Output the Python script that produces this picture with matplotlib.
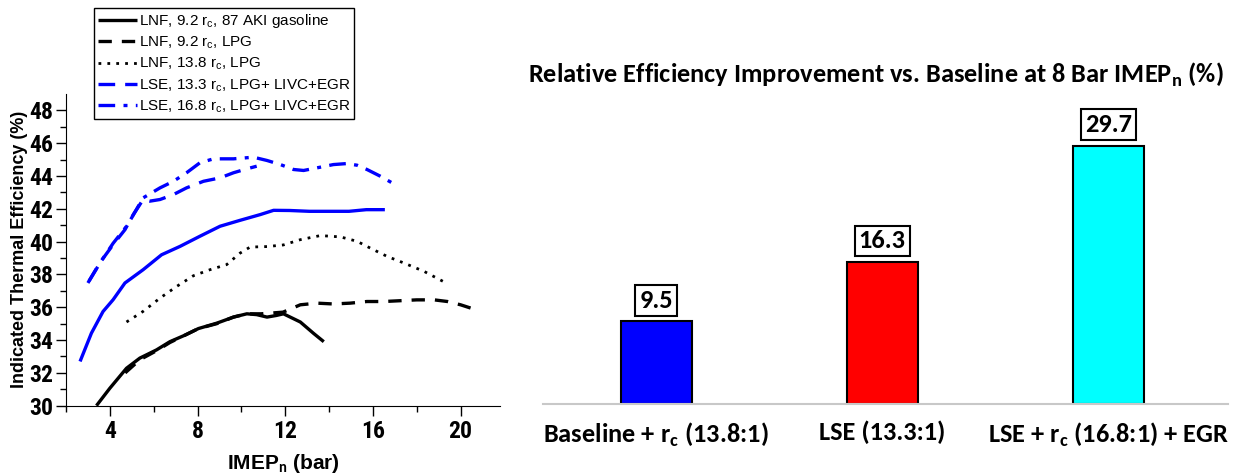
import matplotlib.pyplot as plt
from matplotlib import font_manager as fm

available = {f.name for f in fm.fontManager.ttflist}


def pick(cands):
    for c in cands:
        if c in available:
            return c
    return "DejaVu Sans"


calibri = pick(["Carlito", "Liberation Sans Narrow", "Open Sans Condensed",
                "Roboto Condensed", "Barlow Semi Condensed"])
arial_narrow = pick(["Liberation Sans Narrow", "Arimo", "Roboto Condensed",
                     "Barlow Semi Condensed", "Carlito"])

plt.rcParams['font.family'] = ['Liberation Sans', 'DejaVu Sans']
plt.rcParams['mathtext.fontset'] = 'custom'
plt.rcParams['mathtext.rm'] = 'Liberation Sans'
plt.rcParams['mathtext.it'] = 'Liberation Sans'
plt.rcParams['mathtext.bf'] = calibri + ':bold'

# left panel: indicated thermal efficiency vs IMEPn
gas92_x = [3.39, 4.0, 4.76, 5.37, 6.13, 6.74, 7.43, 8.04, 8.88, 9.64, 10.25, 10.7,
           11.17, 11.6, 11.92, 12.69, 13.3, 13.76]
gas92_y = [30.0, 31.06, 32.28, 32.9, 33.4, 33.9, 34.3, 34.7, 35.03, 35.4, 35.6, 35.55,
           35.4, 35.5, 35.6, 35.1, 34.4, 33.9]

lpg92_x = [4.7, 5.37, 6.13, 6.74, 7.43, 8.04, 8.88, 9.64, 10.25, 10.9, 11.9, 12.69,
           13.45, 14.2, 14.96, 15.73, 16.5, 17.26, 18.0, 18.8, 19.4, 20.0, 20.46]
lpg92_y = [32.0, 32.8, 33.35, 33.85, 34.3, 34.7, 35.0, 35.4, 35.6, 35.6, 35.7, 36.15,
           36.25, 36.2, 36.25, 36.35, 36.35, 36.4, 36.45, 36.45, 36.35, 36.15, 35.95]

lpg138_x = [4.76, 5.52, 6.29, 7.05, 7.81, 8.57, 9.33, 9.94, 10.4, 11.17, 11.92, 12.69,
            13.6, 14.52, 15.28, 15.89, 16.65, 17.41, 18.33, 19.31]
lpg138_y = [35.1, 35.75, 36.56, 37.27, 37.92, 38.29, 38.6, 39.3, 39.67, 39.7, 39.8, 40.12,
            40.37, 40.29, 40.02, 39.6, 39.1, 38.7, 38.19, 37.5]

lse_solid_x = [2.67, 3.16, 3.69, 4.15, 4.69, 5.52, 6.36, 7.2, 8.11, 9.03, 9.94, 10.86,
               11.47, 12.2, 13.1, 14.15, 14.91, 15.7, 16.47]
lse_solid_y = [32.79, 34.42, 35.74, 36.46, 37.48, 38.29, 39.2, 39.71, 40.33, 40.94, 41.3,
               41.65, 41.91, 41.9, 41.85, 41.85, 41.85, 41.95, 41.95]

lse133_x = [3.0, 3.54, 4.15, 4.69, 5.07, 5.52, 5.83, 6.29, 6.9, 7.5, 8.27, 9.03, 9.64,
            10.25, 10.7]
lse133_y = [37.48, 38.7, 39.82, 40.73, 41.65, 42.57, 42.47, 42.57, 42.87, 43.28, 43.68,
            43.89, 44.2, 44.44, 44.6]

lse168_x = [3.05, 3.6, 4.15, 4.8, 5.52, 6.29, 6.9, 7.5, 8.11, 8.73, 9.64, 10.55, 11.17,
            11.78, 12.38, 12.84, 13.45, 14.2, 14.8, 15.28, 15.73, 16.34, 16.88]
lse168_y = [37.6, 38.8, 39.9, 41.0, 42.67, 43.28, 43.68, 44.2, 44.81, 45.05, 45.05, 45.15,
            44.95, 44.7, 44.4, 44.34, 44.5, 44.7, 44.76, 44.66, 44.4, 43.99, 43.58]

legend_labels = [r"LNF, 9.2 r$_\mathrm{c}$, 87 AKI gasoline",
                 r"LNF, 9.2 r$_\mathrm{c}$, LPG",
                 r"LNF, 13.8 r$_\mathrm{c}$, LPG",
                 r"LSE, 13.3 r$_\mathrm{c}$, LPG+ LIVC+EGR",
                 r"LSE, 16.8 r$_\mathrm{c}$, LPG+ LIVC+EGR"]

# right panel: relative improvement
bar_labels = [r"Baseline + r$_\mathbf{c}$ (13.8:1)", "LSE (13.3:1)",
              r"LSE + r$_\mathbf{c}$ (16.8:1) + EGR"]
bar_values = [9.5, 16.3, 29.7]
bar_colors = ["#0000ff", "#ff0000", "#00ffff"]

fig = plt.figure(figsize=(12.38, 4.75), dpi=100)

ax = fig.add_axes([0.0533, 0.146, 0.3506, 0.656])
blue = "#0000ff"
h1, = ax.plot(gas92_x, gas92_y, color="black", lw=2.4, solid_capstyle="butt")
h2, = ax.plot(lpg92_x, lpg92_y, color="black", lw=2.4, ls=(0, (4, 3)))
h3, = ax.plot(lpg138_x, lpg138_y, color="black", lw=2.0, ls=(0, (1, 2.2)))
ax.plot(lse_solid_x, lse_solid_y, color=blue, lw=2.4)
h4, = ax.plot(lse133_x, lse133_y, color=blue, lw=2.4, ls=(0, (5, 3)))
h5, = ax.plot(lse168_x, lse168_y, color=blue, lw=2.4, ls=(0, (5, 2.5, 1.2, 2.5)))

ax.set_xlim(2, 21.8)
ax.set_ylim(30, 49)
ax.set_xticks([4, 8, 12, 16, 20])
ax.set_xticks([2, 6, 10, 14, 18], minor=True)
ax.set_yticks(range(30, 49, 2))
ax.set_yticks(range(31, 49, 2), minor=True)
for s in ["top", "right"]:
    ax.spines[s].set_visible(False)
ax.tick_params(which="major", direction="out", length=7, width=1, labelsize=17)
ax.tick_params(axis="y", which="major", pad=2)
ax.tick_params(which="minor", direction="out", length=4, width=1)
for lab in ax.get_xticklabels() + ax.get_yticklabels():
    lab.set_fontweight("bold")
    lab.set_family(arial_narrow)
ax.set_xlabel(r"IMEP$_\mathbf{n}$ (bar)", fontsize=15, fontweight="bold", labelpad=6)
ax.set_ylabel("Indicated Thermal Efficiency (%)", fontsize=13, fontweight="bold", labelpad=1)

leg = fig.legend([h1, h2, h3, h4, h5], legend_labels, loc="upper left",
                 bbox_to_anchor=(0.0759, 0.983), fontsize=11, handlelength=2.55,
                 handletextpad=0.15, labelspacing=0.32, borderpad=0.25,
                 borderaxespad=0, fancybox=False, framealpha=1)
leg.get_frame().set_edgecolor("black")
leg.get_frame().set_linewidth(1)

# bar chart
bx = fig.add_axes([0.4386, 0.1495, 0.5533, 0.641])
pos = range(len(bar_values))
bars = bx.bar(pos, bar_values, width=0.314, color=bar_colors, edgecolor="black", lw=1.5)
bx.set_xlim(-0.5, 2.53)
bx.set_ylim(0, 35)
for s in ["top", "right", "left"]:
    bx.spines[s].set_visible(False)
bx.spines["bottom"].set_color("#c8c8c8")
bx.spines["bottom"].set_linewidth(1.5)
bx.set_yticks([])
bx.set_xticks(list(pos))
bx.set_xticklabels(bar_labels, fontsize=19, fontweight="bold", family=calibri)
bx.tick_params(axis="x", length=0, pad=12)
for b, v in zip(bars, bar_values):
    bx.annotate(f"{v}", (b.get_x() + b.get_width() / 2, v), xytext=(0, 7),
                textcoords="offset points", ha="center", va="bottom", fontsize=19,
                fontweight="bold", family=calibri,
                bbox=dict(boxstyle="square,pad=0.15", fc="white", ec="black", lw=1.5))

fig.text(0.7076, 0.842, r"Relative Efficiency Improvement vs. Baseline at 8 Bar IMEP$_\mathbf{n}$ (%)",
         ha="center", va="center", fontsize=19, fontweight="bold", family=calibri)

fig.savefig("out.png", dpi=100)
